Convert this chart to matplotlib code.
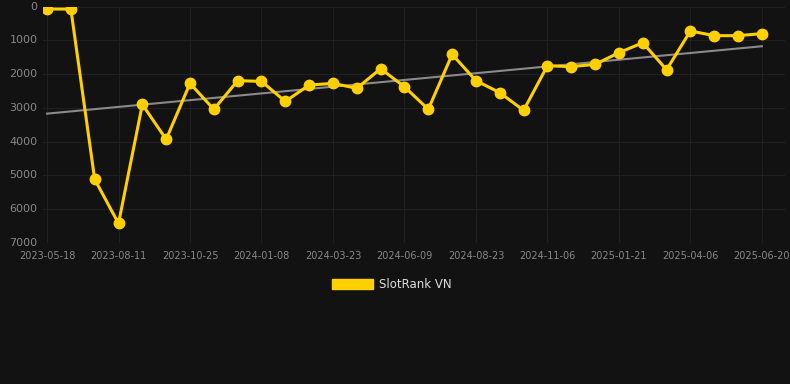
import numpy as np
import matplotlib.pyplot as plt
from matplotlib.patches import Patch

# rank values (lower = better, axis is inverted)
ranks = [70, 70, 5120, 6430, 2900, 3935, 2275, 3045, 2195, 2215, 2810,
         2325, 2275, 2420, 1840, 2375, 3045, 1415, 2195, 2550, 3075,
         1750, 1780, 1710, 1365, 1070, 1870, 720, 860, 860, 800]
tick_labels = ['2023-05-18', '2023-08-11', '2023-10-25', '2024-01-08',
               '2024-03-23', '2024-06-09', '2024-08-23', '2024-11-06',
               '2025-01-21', '2025-04-06', '2025-06-20']
tick_step = 3
series_name = 'SlotRank VN'

bg = '#121212'
yellow = '#FFD000'

x = np.arange(len(ranks))
y = np.array(ranks)

fig = plt.figure(figsize=(7.9, 3.84), dpi=100, facecolor=bg)
ax = fig.add_axes([0.0544, 0.368, 0.9393, 0.6146])
ax.set_facecolor(bg)

# linear trend
coef = np.polyfit(x, y, 1)
ax.plot(x, np.polyval(coef, x), color='#8a8a8a', lw=1.5, zorder=2)

ax.plot(x, y, color=yellow, lw=2.2, marker='o', ms=7.5,
        markerfacecolor=yellow, markeredgecolor=yellow, zorder=3)

ax.set_ylim(7000, 0)
ax.set_xlim(-0.17, 30.97)
ax.set_yticks(np.arange(0, 7001, 1000))
ax.set_xticks(x[::tick_step])
ax.set_xticklabels(tick_labels)

ax.grid(True, color='#202020', lw=0.8)
for s in ax.spines.values():
    s.set_visible(False)
ax.tick_params(axis='both', length=0, colors='#888888')
ax.tick_params(axis='y', labelsize=8, pad=4)
ax.tick_params(axis='x', labelsize=7, pad=6)
for lbl in ax.get_yticklabels():
    lbl.set_verticalalignment('center')

handle = Patch(facecolor=yellow, edgecolor=yellow)
fig.legend([handle], [series_name], loc='center', bbox_to_anchor=(0.496, 0.26),
           frameon=False, fontsize=8.5, labelcolor='#dddddd',
           handlelength=3.5, handleheight=0.95, handletextpad=0.5)

fig.savefig('out.png', dpi=100, facecolor=bg)
